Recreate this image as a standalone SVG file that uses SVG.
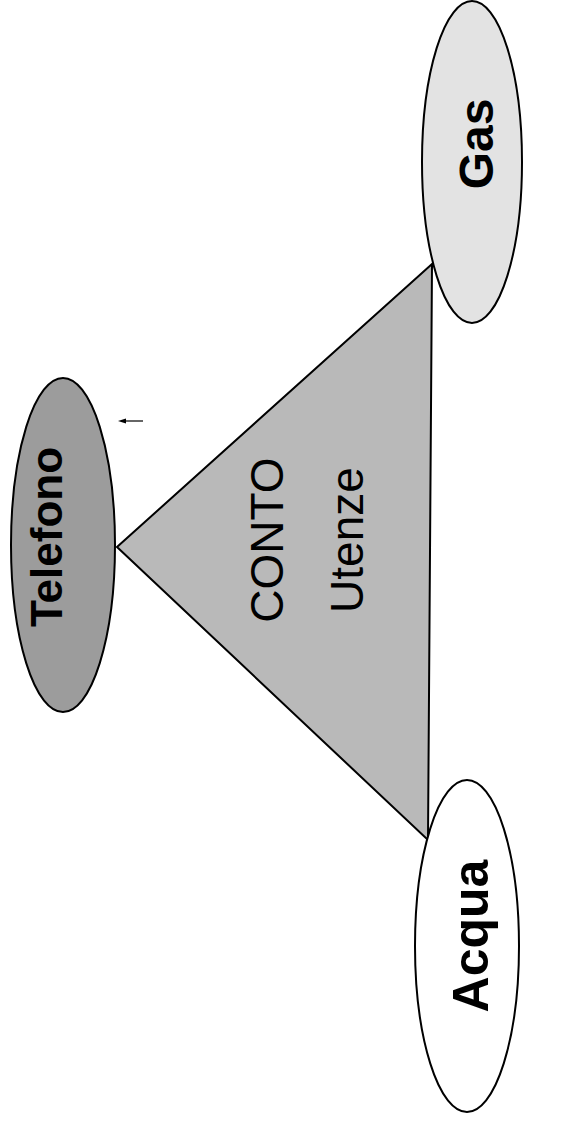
<svg xmlns="http://www.w3.org/2000/svg" width="581" height="1125" viewBox="0 0 581 1125">
<style>
.n{stroke:#000;stroke-width:2}
.b{font-family:"Liberation Sans",Arial,sans-serif;font-weight:bold;fill:#000}
.r{font-family:"Liberation Sans",Arial,sans-serif;fill:#000}
</style>
<defs>
<marker id="ah" markerWidth="8" markerHeight="6" refX="1" refY="3" orient="auto-start-reverse" markerUnits="userSpaceOnUse">
<path d="M0,0.5 L8,3 L0,5.5 z" fill="#000"/>
</marker>
</defs>
<rect width="581" height="1125" fill="#fff"/>
<g id="conto">
<polygon class="n" points="117,547 432,264 428,840" fill="#b9b9b9"/>
<text class="r" font-size="46" text-anchor="middle" transform="translate(283,540) rotate(-90)">CONTO</text>
<text class="r" font-size="46" text-anchor="middle" transform="translate(363,540) rotate(-90)">Utenze</text>
</g>
<g id="gas">
<ellipse class="n" cx="472" cy="162" rx="50" ry="161" fill="#e3e3e3"/>
<text class="b" font-size="48" text-anchor="middle" transform="translate(493,144) rotate(-90)">Gas</text>
</g>
<g id="telefono">
<ellipse class="n" cx="63" cy="545" rx="52" ry="167" fill="#9c9c9c"/>
<text class="b" font-size="44" text-anchor="middle" transform="translate(62,537) rotate(-90)">Telefono</text>
</g>
<g id="acqua">
<ellipse class="n" cx="467" cy="946" rx="52" ry="166" fill="#fff"/>
<text class="b" font-size="50" text-anchor="middle" transform="translate(488,936) rotate(-90)">Acqua</text>
</g>
<g id="connectors">
<line x1="143" y1="421" x2="125" y2="421" stroke="#000" stroke-width="1.2" marker-end="url(#ah)"/>
</g>
</svg>
